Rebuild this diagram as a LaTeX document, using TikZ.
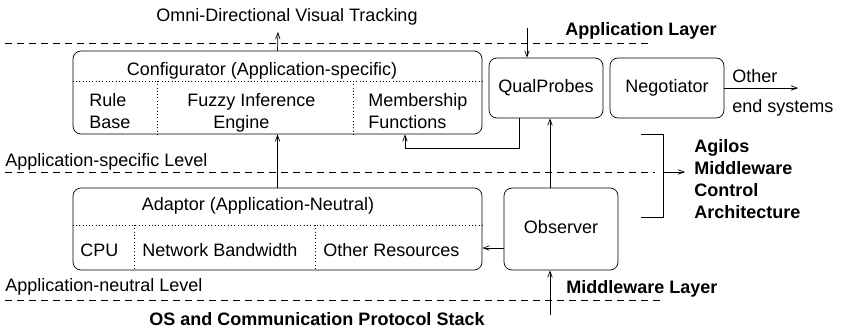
\documentclass[tikz,border=0pt]{standalone}
\usepackage{fontspec}
\setmainfont{Liberation Sans}
\usetikzlibrary{arrows.meta}

\begin{document}
\begin{tikzpicture}[x=1pt, y=-1pt, >={Straight Barb[length=6pt,width=4.5pt]},
    line width=0.7pt, font=\fontsize{18}{22}\selectfont,
    box/.style={draw, rounded corners=8pt, inner sep=0pt, minimum width=114pt},
    small/.style={box, minimum height=60pt, text height=13pt, text depth=4pt},
    layer/.style={dash pattern=on 7pt off 5pt},
    part/.style={dash pattern=on 0.9pt off 2.4pt},
    lbl/.style={inner sep=0pt, anchor=base},
    block/.style={inner sep=0pt, anchor=north west, align=left},
    head/.style={font=\fontsize{18}{22}\selectfont\bfseries}]
  \useasboundingbox (0,0) rectangle (841,329);

  % Layer boundaries
  \draw[layer] (5,43) -- (653,43);
  \draw[layer] (5,172) -- (655,172);
  \draw[layer] (5,300) -- (662,300);

  \node[lbl] (omni) at (287,22) {Omni-Directional Visual Tracking};
  \node[lbl, head] (appl) at (641,36) {Application Layer};
  \node[lbl, anchor=base west] (asl) at (5,166) {Application-specific Level};
  \node[lbl, anchor=base west] (anl) at (5,291) {Application-neutral Level};
  \node[lbl, head, anchor=base west] (mwl) at (566,293) {Middleware Layer};
  \node[lbl, head] (os) at (317,325) {OS and Communication Protocol Stack};

  % Configurator and its three parts
  \node[box, minimum width=409pt, minimum height=83pt] (cfg) at (277.5,92.5) {};
  \draw[part] (cfg.west |- 0,81) -- (cfg.east |- 0,81);
  \draw[part] (157,81) -- (157,0 |- cfg.south);
  \draw[part] (353,81) -- (353,0 |- cfg.south);
  \node[lbl] (cfgt) at (262,75) {Configurator (Application-specific)};
  \node[block] (rule) at (89,93) {Rule\\Base};
  \node[block] (fuzzy) at (187,93) {Fuzzy Inference\\\hspace*{26pt}Engine};
  \node[block] (memb) at (368,93) {Membership\\Functions};

  % Adaptor and its resources
  \node[box, minimum width=409pt, minimum height=82pt] (adp) at (277.5,229) {};
  \draw[part] (adp.west |- 0,225) -- (adp.east |- 0,225);
  \draw[part] (134,225) -- (134,0 |- adp.south);
  \draw[part] (315,225) -- (315,0 |- adp.south);
  \node[lbl] (adpt) at (258,210) {Adaptor (Application-Neutral)};
  \node[lbl, anchor=base west] (cpu) at (80,256) {CPU};
  \node[lbl, anchor=base west] (bw) at (142,256) {Network Bandwidth};
  \node[lbl, anchor=base west] (res) at (323,256) {Other Resources};

  % Side components
  \node[small] (qp) at (546,88) {QualProbes};
  \node[small] (neg) at (667,88) {Negotiator};
  \node[box, minimum height=82pt, text height=13pt, text depth=4pt] (obs) at (561,229) {Observer};

  \node[lbl, anchor=base west] (oth) at (732,83) {Other};
  \node[lbl, anchor=base west] (ends) at (732,113) {end systems};
  \node[block, head] (agl) at (694,139) {Agilos\\Middleware\\Control\\Architecture};

  % Control flow
  \coordinate (up) at (278,32);
  \coordinate (in) at (527,28);
  \coordinate (fb) at (405,148);
  \coordinate (out) at (798,88);
  \coordinate (stk) at (550,315);
  \draw[->] (cfg.north) -- (up);
  \draw[->] (adp.north) -- (cfg.south);
  \draw[->] (in) -- (in |- qp.north);
  \draw[->] ([xshift=-27pt]qp.south) |- (fb) -- (fb |- cfg.south);
  \draw[->] (neg.east) -- (out);
  \draw[->] ([xshift=-11pt]obs.north) -- ([xshift=-11pt]obs.north |- qp.south);
  \draw[->] ([yshift=-19pt]obs.west) -- ([yshift=-19pt]obs.west -| adp.east);
  \draw[->] (stk) -- (stk |- obs.south);

  % Bracket round the control architecture
  \draw (641,134) -- (663,134) -- (663,217) -- (641,217);
  \draw[->] (663,172) -- (685,172);
\end{tikzpicture}
\end{document}
